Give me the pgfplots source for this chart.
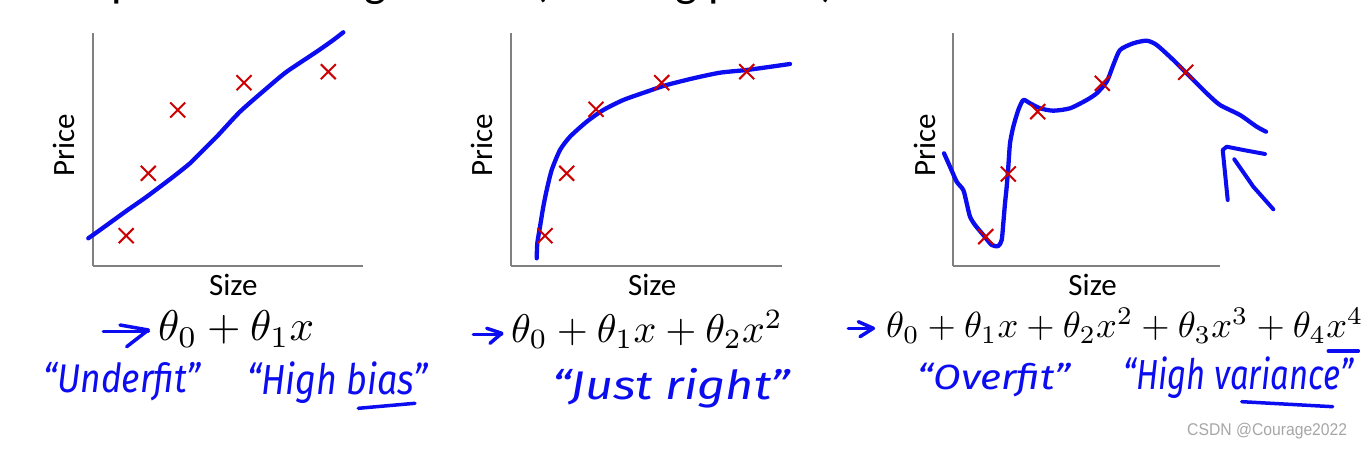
\documentclass[border=0pt]{standalone}
\usepackage{fontspec}
\setmainfont{Carlito}
\newfontfamily\hand{Fira Sans}
\newfontfamily\wm{Liberation Sans}
\usepackage{graphicx}
\usepackage{pgfplots}
\pgfplotsset{compat=1.18}
\definecolor{pen}{RGB}{12,12,240}
\definecolor{xred}{RGB}{204,0,0}
\definecolor{axgray}{RGB}{128,128,128}
\pgfplotsset{
  panel/.style={x=1pt,y=1pt,xmin=0,ymin=0,ymax=233,enlargelimits=false,
    axis x line*=bottom, axis y line*=left,
    axis line style={-,draw=axgray,line width=2pt},
    xtick=\empty, ytick=\empty, clip=false, anchor=south west},
  pts/.style={only marks, mark=x, mark size=10.6pt, xred, mark options={line width=2pt}},
  curve/.style={pen, line width=4.3pt, line cap=round, line join=round},
}
\newcommand{\lab}{\fontsize{31}{36}\selectfont}
\newcommand{\hw}[3]{\resizebox{#1pt}{\height}{\hand\itshape\fontsize{#2}{#2}\selectfont #3}}
\begin{document}
\begin{tikzpicture}[x=1pt,y=1pt]
\useasboundingbox (0,0) rectangle (1370,449);
\clip (0,0) rectangle (1370,449);
\node[anchor=base west, inner sep=0, font=\fontsize{47}{56}\selectfont] at (9,452) {Example: Linear regression (housing prices)};

% Panel 1
\begin{axis}[panel, xmax=270.3, at={(92.7,183)}]
\addplot[curve, smooth, tension=0.4] coordinates {(-4.4,27.7)(7.3,36)(34,55.3)(54,69.3)(80.6,89.3)(97.3,102.7)(107.3,112.7)(124,129.3)(147.3,154.3)(174,177.7)(194,194.3)(224,214.3)(240.6,226)(250.6,233.7)};
\addplot[pts] coordinates {(33.5,30.3)(55.6,92.7)(85,156)(151.3,183.3)(235.6,194.3)};
\node[anchor=base, inner sep=0, font=\lab] at (axis cs:140.6,-30) {Size};
\node[anchor=base, rotate=90, inner sep=0, font=\lab] at (axis cs:-18,120.7) {Price};
\end{axis}

% Panel 2
\begin{axis}[panel, xmax=271, at={(510.7,183)}]
\addplot[curve, smooth, tension=0.4] coordinates {(26,7.7)(26.6,22.7)(29.3,39.3)(32.6,59.3)(36,76)(41,96)(49.3,116)(59.3,129.3)(76,144.3)(92.6,156)(112.6,166)(136,174.3)(156,181)(182.6,187.7)(209.3,193.3)(236,196)(256,198.7)(279.3,202)};
\addplot[pts] coordinates {(34.3,30.3)(56,92.7)(85.3,156.7)(151,183.3)(236,194.3)};
\node[anchor=base, inner sep=0, font=\lab] at (axis cs:141.5,-30) {Size};
\node[anchor=base, rotate=90, inner sep=0, font=\lab] at (axis cs:-18.4,120.7) {Price};
\end{axis}

% Panel 3
\begin{axis}[panel, xmax=266.7, at={(953.3,183)}]
\addplot[curve, smooth, tension=0.4] coordinates {(-9.3,112.7)(-3.3,99.3)(3.4,84.3)(10,76)(13.4,62.7)(16.7,49.3)(21.7,41)(30,31)(38.4,21)(45,20)(48.4,26)(50,42.7)(51.7,62.7)(53.4,79.3)(55,99.3)(56.7,122.7)(60,139.3)(65,156)(70,166)(76.7,162.7)(86.7,157.7)(100,155.3)(116.7,157.7)(133.4,166)(143.4,172.7)(153.4,184.3)(160,201)(166.7,216)(180,222.7)(193.4,225.3)(203.4,221)(220,206)(236.7,189.3)(253.4,172.7)(266.7,161)(286.7,151)(303.4,139.3)(312.7,134.3)};
\addplot[pts] coordinates {(32.4,29.3)(55,92)(84.4,154.3)(149,182.7)(232.4,193.7)};
\addplot[curve, line width=4pt] coordinates {(274.4,66)(272.5,85)(270.2,108)(269.4,116)(273.4,119.3)(290,116)(311.7,112)};
\addplot[curve, line width=4pt] coordinates {(281,106.7)(300,79.3)(320,56.7)};
\node[anchor=base, inner sep=0, font=\lab] at (axis cs:139.3,-30) {Size};
\node[anchor=base, rotate=90, inner sep=0, font=\lab] at (axis cs:-18.3,120.7) {Price};
\end{axis}

% formulas
\node[anchor=base west, inner sep=0] at (158,108) {\scalebox{4.3}{$\theta_0+\theta_1x$}};
\node[anchor=base west, inner sep=0] at (511,106) {\scalebox{4.0}{$\theta_0+\theta_1x+\theta_2x^2$}};
\node[anchor=base west, inner sep=0] at (886,111) {\scalebox{3.64}{$\theta_0+\theta_1x+\theta_2x^2+\theta_3x^3+\theta_4x^4$}};

% hand-drawn arrows and underlines
\begin{scope}[pen, line width=3.5pt, line cap=round, line join=round]
\draw (103.3,117.3) -- (148.3,117.3);
\draw (120,124) -- (148.3,119) -- (126.7,102.3);
\draw (473.3,114.7) -- (501.7,114.7);
\draw (486.7,120.7) -- (501.7,115.7) -- (490,105.7);
\draw (848.3,120.7) -- (873.3,120.7);
\draw (858.3,127.3) -- (873.3,120.7) -- (860,112.3);
\draw (358.3,40.7) -- (415,45.7);
\draw (1241.7,47.3) -- (1332.7,42.3);
\draw (1328.3,98) -- (1358.3,98);
\end{scope}

% handwriting
\node[anchor=base west, inner sep=0, text=pen] at (43,56) {\hw{157}{40}{“Underfit”}};
\node[anchor=base west, inner sep=0, text=pen] at (247,54) {\hw{181}{42}{“High bias”}};
\node[anchor=base west, inner sep=0, text=pen] at (552,49) {\hw{238}{40}{“Just right”}};
\node[anchor=base west, inner sep=0, text=pen] at (917,59) {\hw{153}{35}{“Overfit”}};
\node[anchor=base west, inner sep=0, text=pen] at (1123,59) {\hw{230}{42}{“High variance”}};

% watermark
\node[anchor=base west, inner sep=0, text=black!35] at (1187,13) {\resizebox{160pt}{\height}{\wm\fontsize{17}{20}\selectfont CSDN @Courage2022}};
\end{tikzpicture}
\end{document}
